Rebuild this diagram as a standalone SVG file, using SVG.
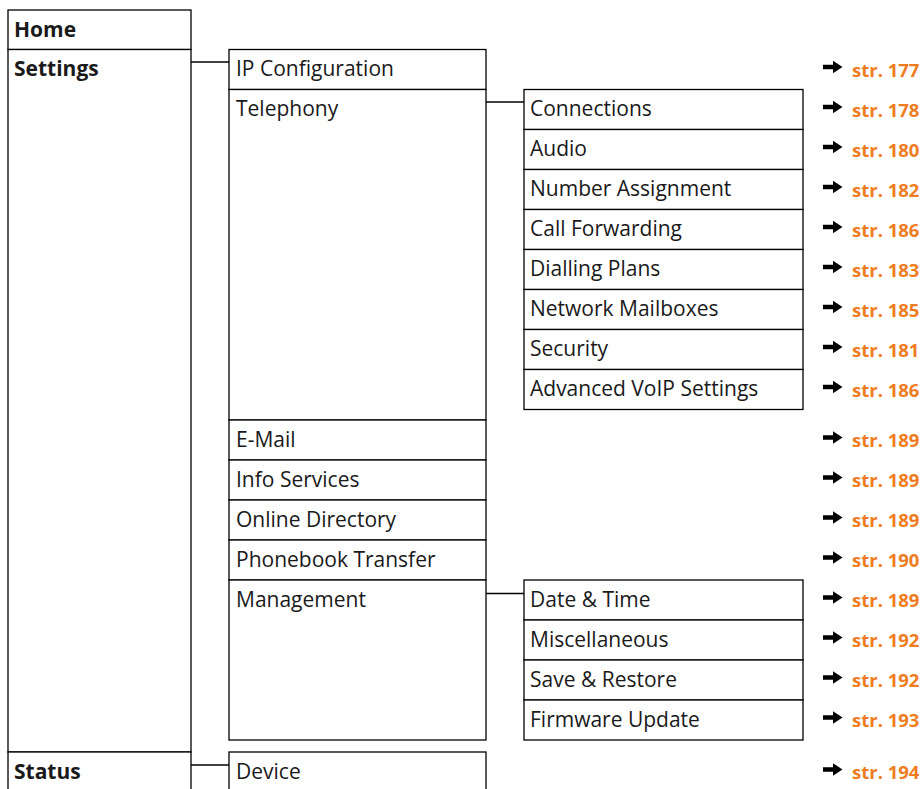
<svg xmlns="http://www.w3.org/2000/svg" xmlns:xlink="http://www.w3.org/1999/xlink" width="922" height="789" viewBox="0 0 922 789">
<style>
.box{fill:#fff;stroke:#000;stroke-width:1.3}
.t{font-family:"Open Sans","Noto Sans",sans-serif;font-size:21px;fill:#1a1a1a}
.b{font-weight:bold}
.ref{font-family:"Open Sans","Noto Sans",sans-serif;font-size:18.5px;font-weight:bold;fill:#EE7D22}
.c{stroke:#000;stroke-width:1.3;fill:none}
</style>
<defs>
<path id="arr" d="M0,-2.2 H10 V-6.2 L19.5,0 L10,6.2 V2.2 H0 Z" fill="#000"/>
</defs>
<rect width="922" height="789" fill="#fff"/>
<g id="connectors">
<line class="c" x1="191" y1="62" x2="229" y2="62"/>
<line class="c" x1="486" y1="102" x2="524" y2="102"/>
<line class="c" x1="486" y1="593.5" x2="524" y2="593.5"/>
<line class="c" x1="191" y1="765" x2="229" y2="765"/>
</g>
<g id="home"><rect class="box" x="8" y="10" width="183" height="39.5"/><text class="t b" x="14" y="36.5">Home</text></g>
<g id="settings"><rect class="box" x="8" y="49.5" width="183" height="702.5"/><text class="t b" x="14" y="76">Settings</text></g>
<g id="status"><rect class="box" x="8" y="752" width="183" height="50"/><text class="t b" x="14" y="778.5">Status</text></g>

<g id="ip-configuration"><rect class="box" x="229" y="49.5" width="257" height="40"/><text class="t" x="236" y="76">IP Configuration</text><use xlink:href="#arr" x="823" y="67"/><text class="ref" x="852" y="76.5">str. 177</text></g>
<g id="telephony"><rect class="box" x="229" y="89.5" width="257" height="330.5"/><text class="t" x="236" y="116">Telephony</text></g>
<g id="e-mail"><rect class="box" x="229" y="420" width="257" height="40"/><text class="t" x="236" y="446.5">E-Mail</text><use xlink:href="#arr" x="823" y="437.5"/><text class="ref" x="852" y="447">str. 189</text></g>
<g id="info-services"><rect class="box" x="229" y="460" width="257" height="40"/><text class="t" x="236" y="486.5">Info Services</text><use xlink:href="#arr" x="823" y="477.5"/><text class="ref" x="852" y="487">str. 189</text></g>
<g id="online-directory"><rect class="box" x="229" y="500" width="257" height="40"/><text class="t" x="236" y="526.5">Online Directory</text><use xlink:href="#arr" x="823" y="517.5"/><text class="ref" x="852" y="527">str. 189</text></g>
<g id="phonebook-transfer"><rect class="box" x="229" y="540" width="257" height="40"/><text class="t" x="236" y="566.5">Phonebook Transfer</text><use xlink:href="#arr" x="823" y="557.5"/><text class="ref" x="852" y="567">str. 190</text></g>
<g id="management"><rect class="box" x="229" y="580" width="257" height="160"/><text class="t" x="236" y="606.5">Management</text></g>
<g id="device"><rect class="box" x="229" y="752" width="257" height="50"/><text class="t" x="236" y="778.5">Device</text><use xlink:href="#arr" x="823" y="769.5"/><text class="ref" x="852" y="779">str. 194</text></g>

<g id="connections"><rect class="box" x="524" y="89.5" width="279" height="40"/><text class="t" x="530" y="116">Connections</text><use xlink:href="#arr" x="823" y="107"/><text class="ref" x="852" y="116.5">str. 178</text></g>
<g id="audio"><rect class="box" x="524" y="129.5" width="279" height="40"/><text class="t" x="530" y="156">Audio</text><use xlink:href="#arr" x="823" y="147"/><text class="ref" x="852" y="156.5">str. 180</text></g>
<g id="number-assignment"><rect class="box" x="524" y="169.5" width="279" height="40"/><text class="t" x="530" y="196">Number Assignment</text><use xlink:href="#arr" x="823" y="187"/><text class="ref" x="852" y="196.5">str. 182</text></g>
<g id="call-forwarding"><rect class="box" x="524" y="209.5" width="279" height="40"/><text class="t" x="530" y="236">Call Forwarding</text><use xlink:href="#arr" x="823" y="227"/><text class="ref" x="852" y="236.5">str. 186</text></g>
<g id="dialling-plans"><rect class="box" x="524" y="249.5" width="279" height="40"/><text class="t" x="530" y="276">Dialling Plans</text><use xlink:href="#arr" x="823" y="267"/><text class="ref" x="852" y="276.5">str. 183</text></g>
<g id="network-mailboxes"><rect class="box" x="524" y="289.5" width="279" height="40"/><text class="t" x="530" y="316">Network Mailboxes</text><use xlink:href="#arr" x="823" y="307"/><text class="ref" x="852" y="316.5">str. 185</text></g>
<g id="security"><rect class="box" x="524" y="329.5" width="279" height="40"/><text class="t" x="530" y="356">Security</text><use xlink:href="#arr" x="823" y="347"/><text class="ref" x="852" y="356.5">str. 181</text></g>
<g id="advanced-voip"><rect class="box" x="524" y="369.5" width="279" height="40"/><text class="t" x="530" y="396">Advanced VoIP Settings</text><use xlink:href="#arr" x="823" y="387"/><text class="ref" x="852" y="396.5">str. 186</text></g>

<g id="date-time"><rect class="box" x="524" y="580" width="279" height="40"/><text class="t" x="530" y="606.5">Date &amp; Time</text><use xlink:href="#arr" x="823" y="597.5"/><text class="ref" x="852" y="607">str. 189</text></g>
<g id="miscellaneous"><rect class="box" x="524" y="620" width="279" height="40"/><text class="t" x="530" y="646.5">Miscellaneous</text><use xlink:href="#arr" x="823" y="637.5"/><text class="ref" x="852" y="647">str. 192</text></g>
<g id="save-restore"><rect class="box" x="524" y="660" width="279" height="40"/><text class="t" x="530" y="686.5">Save &amp; Restore</text><use xlink:href="#arr" x="823" y="677.5"/><text class="ref" x="852" y="687">str. 192</text></g>
<g id="firmware-update"><rect class="box" x="524" y="700" width="279" height="40"/><text class="t" x="530" y="726.5">Firmware Update</text><use xlink:href="#arr" x="823" y="717.5"/><text class="ref" x="852" y="727">str. 193</text></g>
</svg>
